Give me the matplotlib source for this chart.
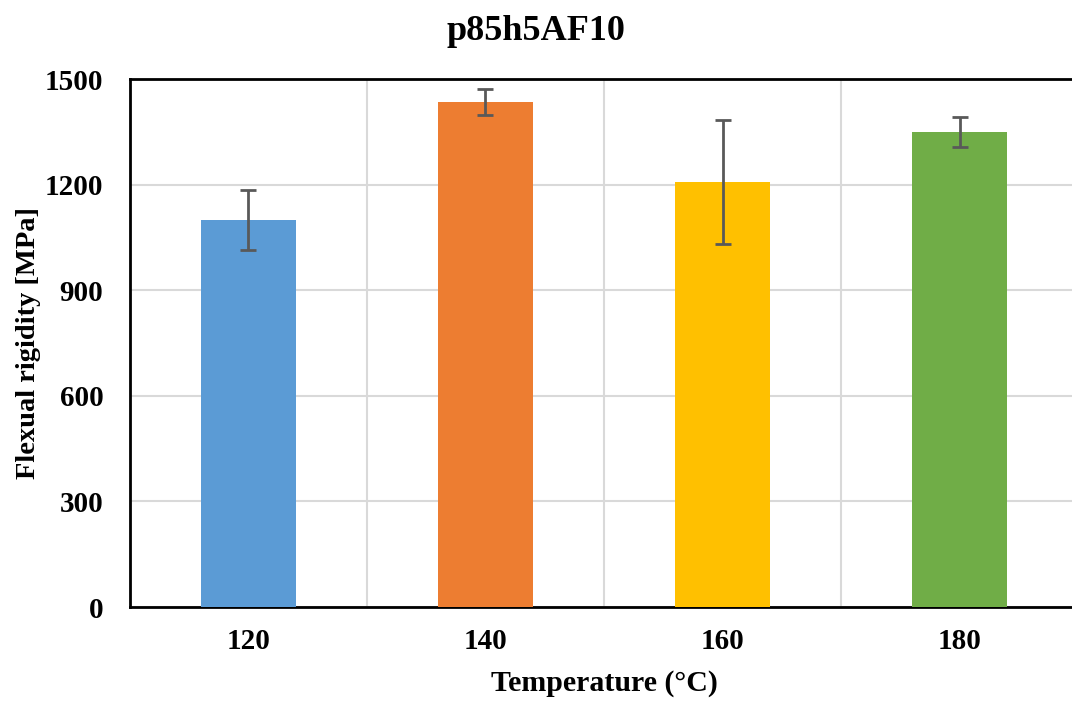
import matplotlib
matplotlib.use("Agg")
import matplotlib.pyplot as plt
from matplotlib.ticker import FixedLocator

categories = ["120", "140", "160", "180"]
values = [1101, 1436, 1208, 1350]
errors = [85, 37, 177, 43]
colors = ["#5B9BD5", "#ED7D31", "#FFC000", "#70AD47"]
yticks = [0, 300, 600, 900, 1200, 1500]

plt.rcParams["font.family"] = ["Liberation Serif", "DejaVu Serif"]
plt.rcParams["font.weight"] = "bold"

fig = plt.figure(figsize=(10.72, 7.01), dpi=100)
ax = fig.add_axes([0.121, 0.134, 0.885, 0.753])

x = list(range(len(categories)))
ax.bar(x, values, width=0.4, color=colors, zorder=3)
ax.errorbar(x, values, yerr=errors, fmt="none", ecolor="#595959",
            elinewidth=2, capsize=6, capthick=2, zorder=4)

ax.set_xlim(-0.5, len(categories) - 0.5)
ax.set_ylim(0, 1500)
ax.set_yticks(yticks)
ax.set_xticks(x)
ax.set_xticklabels(categories)
ax.xaxis.set_minor_locator(FixedLocator([0.5, 1.5, 2.5]))

ax.grid(axis="y", which="major", color="#D9D9D9", linewidth=1.5, zorder=0)
ax.grid(axis="x", which="minor", color="#D9D9D9", linewidth=1.5, zorder=0)

for side in ["left", "bottom", "top"]:
    ax.spines[side].set_linewidth(2)
    ax.spines[side].set_color("black")
ax.spines["right"].set_visible(False)

ax.tick_params(axis="both", which="both", length=0, labelsize=21)
ax.tick_params(axis="x", pad=15)
ax.tick_params(axis="y", pad=19)
for lbl in ax.get_xticklabels() + ax.get_yticklabels():
    lbl.set_fontweight("bold")

fig.text(0.5, 1 - 31 / 701, "p85h5AF10", fontsize=26, fontweight="bold",
         ha="center", va="center")
ax.set_xlabel("Temperature (°C)", fontsize=21.5, fontweight="bold", labelpad=11)
ax.set_ylabel("Flexual rigidity [MPa]", fontsize=20.5, fontweight="bold")
ax.yaxis.set_label_coords(-0.093, 0.5)

fig.savefig("out.png", dpi=100)
